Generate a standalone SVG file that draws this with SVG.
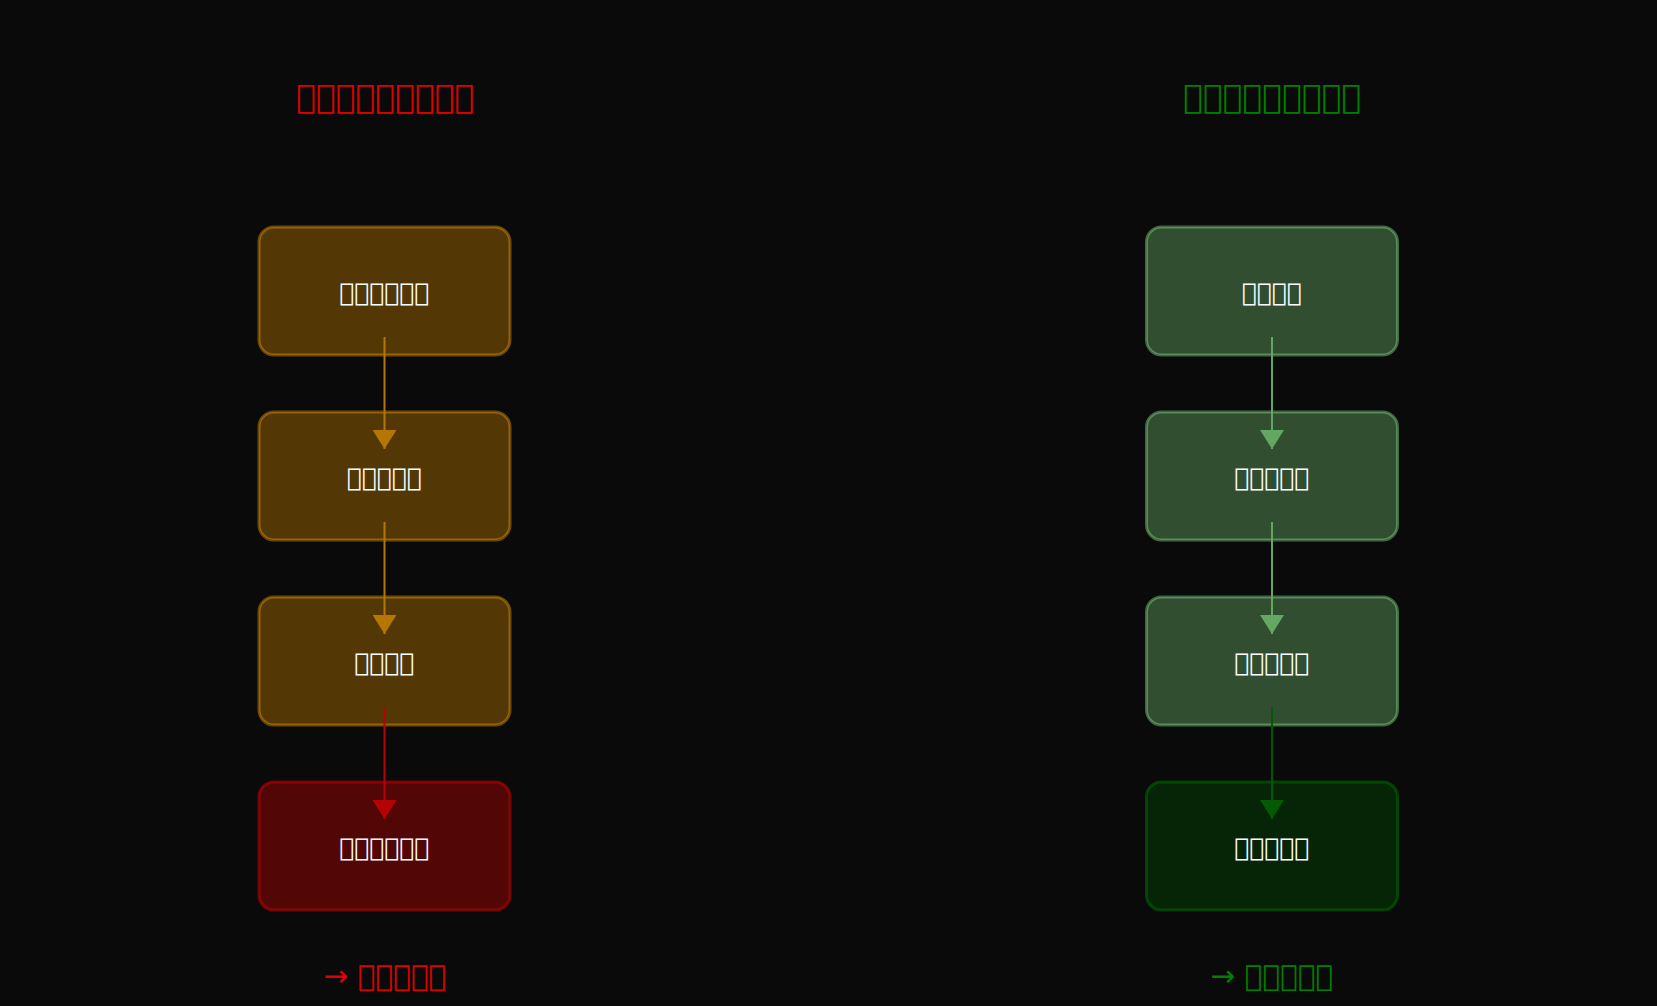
<svg xmlns="http://www.w3.org/2000/svg" width="1657" height="1006" viewBox="0 0 1657 1006">
<defs>
<style>
text{font-family:"DejaVu Sans",sans-serif;text-anchor:middle;dominant-baseline:central}
.t{font-size:33px}
.n{font-size:25px;fill:#ffffff}
.b{font-size:29.5px}
.o rect{fill:rgba(255,165,0,0.3);stroke:rgba(255,165,0,0.4);stroke-width:3}
.r rect{fill:rgba(255,0,0,0.3);stroke:rgba(200,0,0,0.55);stroke-width:3}
.g rect{fill:rgba(144,238,144,0.3);stroke:rgba(144,238,144,0.4);stroke-width:3}
.d rect{fill:rgba(0,100,0,0.3);stroke:rgba(0,100,0,0.6);stroke-width:3}
.lo{stroke:#b57603;stroke-width:2;marker-end:url(#ao)}
.lr{stroke:#b50303;stroke-width:2;marker-end:url(#ar)}
.lg{stroke:#62a862;stroke-width:2;marker-end:url(#ag)}
.ld{stroke:#045a04;stroke-width:2;marker-end:url(#ad)}
</style>
<marker id="ao" markerUnits="userSpaceOnUse" viewBox="0 0 19 24" refX="19" refY="12" markerWidth="19" markerHeight="24" orient="auto"><path d="M0,0 L19,12 L0,24 z" fill="#b57603"/></marker>
<marker id="ar" markerUnits="userSpaceOnUse" viewBox="0 0 19 24" refX="19" refY="12" markerWidth="19" markerHeight="24" orient="auto"><path d="M0,0 L19,12 L0,24 z" fill="#b50303"/></marker>
<marker id="ag" markerUnits="userSpaceOnUse" viewBox="0 0 19 24" refX="19" refY="12" markerWidth="19" markerHeight="24" orient="auto"><path d="M0,0 L19,12 L0,24 z" fill="#62a862"/></marker>
<marker id="ad" markerUnits="userSpaceOnUse" viewBox="0 0 19 24" refX="19" refY="12" markerWidth="19" markerHeight="24" orient="auto"><path d="M0,0 L19,12 L0,24 z" fill="#045a04"/></marker>
</defs>
<rect width="1657" height="1006" fill="#0a0a0a"/>
<text id="title-left" class="t" x="385" y="96" fill="#e00000">&#xE000;&#xE000;&#xE000;&#xE000;&#xE000;&#xE000;&#xE000;&#xE000;&#xE000;</text>
<text id="title-right" class="t" x="1272" y="96" fill="#008000">&#xE000;&#xE000;&#xE000;&#xE000;&#xE000;&#xE000;&#xE000;&#xE000;&#xE000;</text>
<g id="L1" class="o"><rect x="259" y="227" width="251" height="128" rx="15"/><text class="n" x="384.5" y="292">&#xE000;&#xE000;&#xE000;&#xE000;&#xE000;&#xE000;</text></g>
<g id="L2" class="o"><rect x="259" y="412" width="251" height="128" rx="15"/><text class="n" x="384.5" y="477">&#xE000;&#xE000;&#xE000;&#xE000;&#xE000;</text></g>
<g id="L3" class="o"><rect x="259" y="597" width="251" height="128" rx="15"/><text class="n" x="384.5" y="662">&#xE000;&#xE000;&#xE000;&#xE000;</text></g>
<g id="L4" class="r"><rect x="259" y="782" width="251" height="128" rx="15"/><text class="n" x="384.5" y="847">&#xE000;&#xE000;&#xE000;&#xE000;&#xE000;&#xE000;</text></g>
<g id="R1" class="g"><rect x="1146.5" y="227" width="251" height="128" rx="15"/><text class="n" x="1272" y="292">&#xE000;&#xE000;&#xE000;&#xE000;</text></g>
<g id="R2" class="g"><rect x="1146.5" y="412" width="251" height="128" rx="15"/><text class="n" x="1272" y="477">&#xE000;&#xE000;&#xE000;&#xE000;&#xE000;</text></g>
<g id="R3" class="g"><rect x="1146.5" y="597" width="251" height="128" rx="15"/><text class="n" x="1272" y="662">&#xE000;&#xE000;&#xE000;&#xE000;&#xE000;</text></g>
<g id="R4" class="d"><rect x="1146.5" y="782" width="251" height="128" rx="15"/><text class="n" x="1272" y="847">&#xE000;&#xE000;&#xE000;&#xE000;&#xE000;</text></g>
<g id="connectors">
<line class="lo" x1="384.5" y1="337" x2="384.5" y2="449"/>
<line class="lo" x1="384.5" y1="522" x2="384.5" y2="634"/>
<line class="lr" x1="384.5" y1="707" x2="384.5" y2="819"/>
<line class="lg" x1="1272" y1="337" x2="1272" y2="449"/>
<line class="lg" x1="1272" y1="522" x2="1272" y2="634"/>
<line class="ld" x1="1272" y1="707" x2="1272" y2="819"/>
</g>
<text id="result-left" class="b" x="385" y="976" fill="#e00000">→ &#xE000;&#xE000;&#xE000;&#xE000;&#xE000;</text>
<text id="result-right" class="b" x="1272" y="976" fill="#008000">→ &#xE000;&#xE000;&#xE000;&#xE000;&#xE000;</text>
</svg>
